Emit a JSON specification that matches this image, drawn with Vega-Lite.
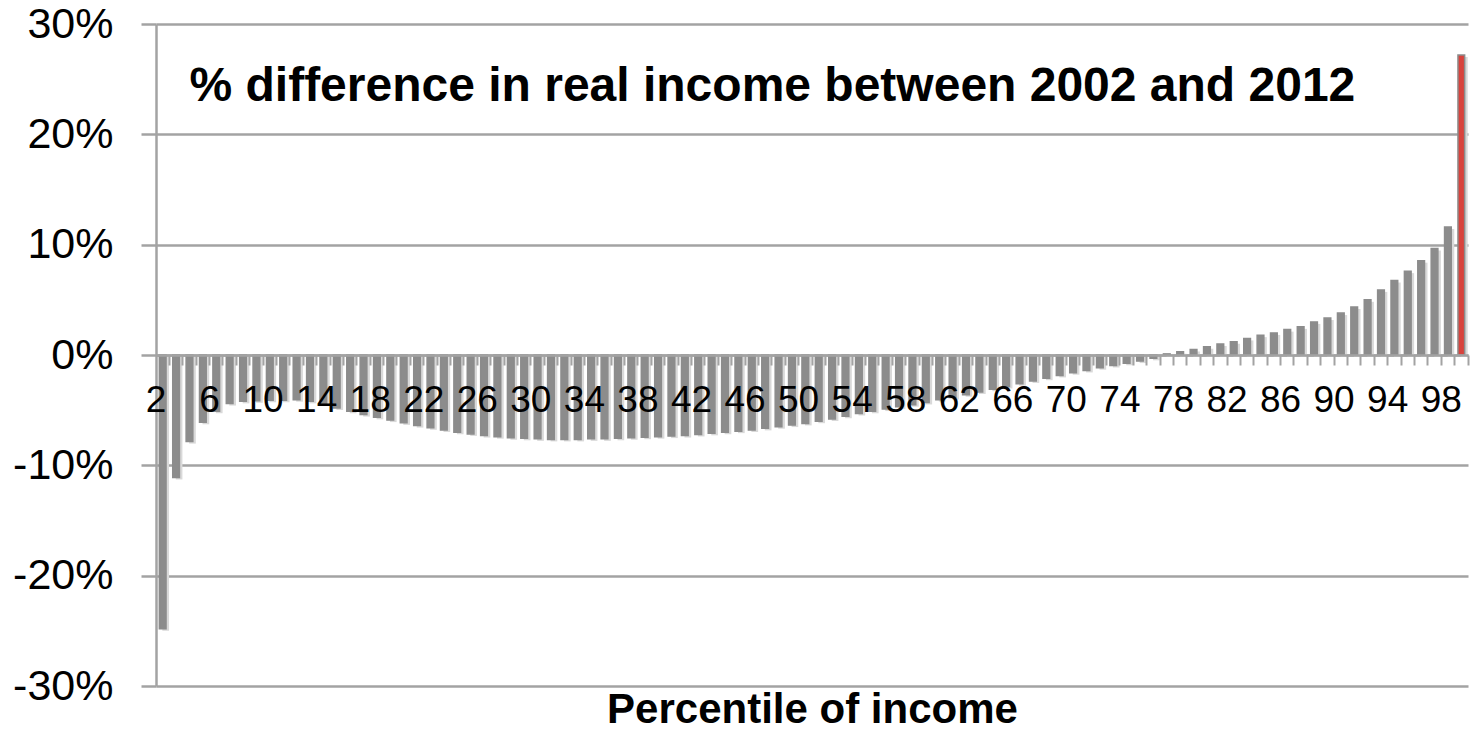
{
  "$schema": "https://vega.github.io/schema/vega-lite/v6.json",
  "width": 1312,
  "height": 662,
  "autosize": {"type": "none"},
  "padding": {"left": 156, "top": 24, "right": 2, "bottom": 53},
  "background": "white",
  "config": {"view": {"stroke": null}, "font": "Liberation Sans"},
  "data": {"values": [
    {"p":2,"v":-24.8},{"p":3,"v":-11.1},{"p":4,"v":-7.85},{"p":5,"v":-6.1},{"p":6,"v":-5.1},
    {"p":7,"v":-4.4},{"p":8,"v":-4.2},{"p":9,"v":-4.15},{"p":10,"v":-4.1},{"p":11,"v":-4.1},
    {"p":12,"v":-4.05},{"p":13,"v":-4.2},{"p":14,"v":-4.45},{"p":15,"v":-4.8},{"p":16,"v":-5.1},
    {"p":17,"v":-5.4},{"p":18,"v":-5.65},{"p":19,"v":-5.9},{"p":20,"v":-6.15},{"p":21,"v":-6.4},
    {"p":22,"v":-6.6},{"p":23,"v":-6.8},{"p":24,"v":-7.0},{"p":25,"v":-7.15},{"p":26,"v":-7.3},
    {"p":27,"v":-7.4},{"p":28,"v":-7.5},{"p":29,"v":-7.55},{"p":30,"v":-7.6},{"p":31,"v":-7.65},
    {"p":32,"v":-7.65},{"p":33,"v":-7.65},{"p":34,"v":-7.6},{"p":35,"v":-7.6},{"p":36,"v":-7.55},
    {"p":37,"v":-7.5},{"p":38,"v":-7.45},{"p":39,"v":-7.4},{"p":40,"v":-7.35},{"p":41,"v":-7.3},
    {"p":42,"v":-7.2},{"p":43,"v":-7.1},{"p":44,"v":-7.0},{"p":45,"v":-6.9},{"p":46,"v":-6.8},
    {"p":47,"v":-6.65},{"p":48,"v":-6.5},{"p":49,"v":-6.35},{"p":50,"v":-6.2},{"p":51,"v":-6.0},
    {"p":52,"v":-5.8},{"p":53,"v":-5.55},{"p":54,"v":-5.3},{"p":55,"v":-5.1},{"p":56,"v":-4.9},
    {"p":57,"v":-4.7},{"p":58,"v":-4.5},{"p":59,"v":-4.3},{"p":60,"v":-4.05},{"p":61,"v":-3.85},
    {"p":62,"v":-3.6},{"p":63,"v":-3.35},{"p":64,"v":-3.1},{"p":65,"v":-2.85},{"p":66,"v":-2.6},
    {"p":67,"v":-2.35},{"p":68,"v":-2.1},{"p":69,"v":-1.85},{"p":70,"v":-1.6},{"p":71,"v":-1.4},
    {"p":72,"v":-1.15},{"p":73,"v":-0.95},{"p":74,"v":-0.75},{"p":75,"v":-0.55},{"p":76,"v":-0.3},
    {"p":77,"v":0.1},{"p":78,"v":0.3},{"p":79,"v":0.5},{"p":80,"v":0.75},{"p":81,"v":1.0},
    {"p":82,"v":1.2},{"p":83,"v":1.5},{"p":84,"v":1.8},{"p":85,"v":2.0},{"p":86,"v":2.3},
    {"p":87,"v":2.55},{"p":88,"v":3.0},{"p":89,"v":3.35},{"p":90,"v":3.8},{"p":91,"v":4.35},
    {"p":92,"v":5.0},{"p":93,"v":5.9},{"p":94,"v":6.75},{"p":95,"v":7.6},{"p":96,"v":8.55},
    {"p":97,"v":9.65},{"p":98,"v":11.6},{"p":99,"v":27.2}
  ]},
  "layer": [
    {
      "mark": {"type": "bar", "color": "#d9d9d9", "xOffset": 3, "yOffset": 2},
      "encoding": {
        "x": {"field": "p", "type": "ordinal", "axis": null, "scale": {"paddingInner": 0.5, "paddingOuter": 0.25}},
        "y": {"field": "v", "type": "quantitative", "scale": {"domain": [-30, 30], "nice": false},
          "axis": {"values": [-30, -20, -10, 0, 10, 20, 30], "labelExpr": "datum.value + '%'",
            "labelFontSize": 43, "labelColor": "black", "labelFont": "Liberation Sans", "labelPadding": 28,
            "tickSize": 15, "tickWidth": 2.5, "tickColor": "#a3a3a3",
            "domainColor": "#a3a3a3", "domainWidth": 2.5,
            "grid": true, "gridColor": "#a3a3a3", "gridWidth": 2.5, "title": null}}
      }
    },
    {
      "mark": {"type": "bar", "stroke": "#8c8c8c", "strokeWidth": 1.5},
      "encoding": {
        "x": {"field": "p", "type": "ordinal",
          "axis": {"orient": "bottom", "offset": -331, "bandPosition": 1.5, "labelOffset": -6.7, "zindex": 1,
            "labelExpr": "datum.value % 4 == 2 ? datum.label : ''",
            "labelFontSize": 37, "labelColor": "black", "labelFont": "Liberation Sans", "labelPadding": 17, "labelAngle": 0, "labelOverlap": false,
            "tickSize": 10, "tickWidth": 2, "tickColor": "#a3a3a3",
            "domainColor": "#a3a3a3", "domainWidth": 2.5, "title": null, "grid": false}},
        "y": {"field": "v", "type": "quantitative",
          "axis": {"values": [-30, -20, -10, 0, 10, 20, 30], "labelExpr": "datum.value + '%'",
            "labelFontSize": 43, "labelColor": "black", "labelFont": "Liberation Sans", "labelPadding": 28,
            "tickSize": 15, "tickWidth": 2.5, "tickColor": "#a3a3a3",
            "domainColor": "#a3a3a3", "domainWidth": 2.5,
            "grid": true, "gridColor": "#a3a3a3", "gridWidth": 2.5, "title": null}},
        "color": {"condition": {"test": "datum.p === 99", "value": "#d8433d"}, "value": "#8c8c8c"}
      }
    },
    {
      "data": {"values": [{}]},
      "mark": {"type": "text", "text": "% difference in real income between 2002 and 2012", "align": "left", "baseline": "alphabetic",
        "fontSize": 48, "fontWeight": "bold", "font": "Liberation Sans", "color": "black"},
      "encoding": {
        "x": {"datum": 4, "type": "ordinal",
          "axis": {"orient": "bottom", "labels": false, "ticks": false, "domain": false, "grid": false,
            "title": "Percentile of income", "titleFontSize": 42, "titleFontWeight": "bold", "titleColor": "black",
            "titleFont": "Liberation Sans", "titlePadding": 3}},
        "y": {"datum": 23, "type": "quantitative",
          "axis": {"values": [-30, -20, -10, 0, 10, 20, 30], "labelExpr": "datum.value + '%'",
            "labelFontSize": 43, "labelColor": "black", "labelFont": "Liberation Sans", "labelPadding": 28,
            "tickSize": 15, "tickWidth": 2.5, "tickColor": "#a3a3a3",
            "domainColor": "#a3a3a3", "domainWidth": 2.5,
            "grid": true, "gridColor": "#a3a3a3", "gridWidth": 2.5, "title": null}}
      }
    }
  ],
  "resolve": {"axis": {"x": "independent"}}
}
